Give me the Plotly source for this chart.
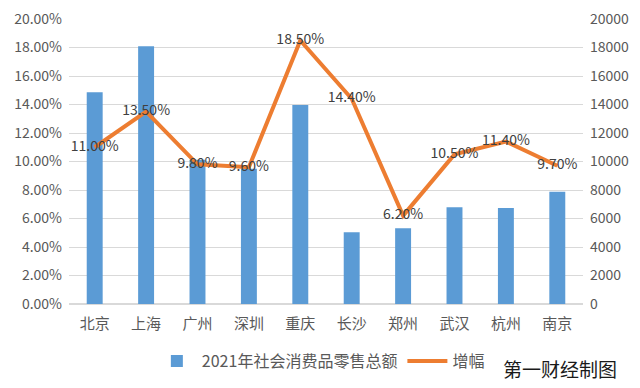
import plotly.graph_objects as go

cities = ["北京", "上海", "广州", "深圳", "重庆", "长沙", "郑州", "武汉", "杭州", "南京"]
retail = [14868, 18079, 10122, 9498, 13968, 5030, 5310, 6786, 6744, 7880]
growth = [11.0, 13.5, 9.8, 9.6, 18.5, 14.4, 6.2, 10.5, 11.4, 9.7]
bar_name = "2021年社会消费品零售总额"
line_name = "增幅"

FONT = "Noto Sans CJK SC"

fig = go.Figure()
fig.add_trace(go.Bar(
    x=cities, y=retail, name=bar_name, yaxis="y",
    marker=dict(color="#5B9BD5", line=dict(width=0)),
))
fig.add_trace(go.Scatter(
    x=cities, y=growth, name=line_name, yaxis="y2",
    mode="lines+text",
    line=dict(color="#ED7D31", width=4),
    text=[f"{v:.2f}%" for v in growth],
    textposition="middle center",
    textfont=dict(size=14, color="#404040", family=FONT),
    cliponaxis=False,
))

fig.update_layout(
    width=640, height=388,
    margin=dict(l=69, r=57, t=19, b=84, autoexpand=False),
    paper_bgcolor="white", plot_bgcolor="white",
    font=dict(family=FONT, color="#595959", size=13),
    bargap=0.69,
    showlegend=True,
    legend=dict(orientation="h", x=0.49, xanchor="center", y=-0.2, yanchor="middle",
                font=dict(size=16, color="#595959"), itemwidth=40,
                traceorder="normal"),
    xaxis=dict(showgrid=False, showline=False, ticks="",
               tickfont=dict(size=15, color="#595959"), ticklabelstandoff=9),
    yaxis=dict(side="right", range=[0, 20000], dtick=2000, tickformat="d",
               showgrid=True, gridcolor="#D9D9D9", gridwidth=1,
               zeroline=True, zerolinecolor="#D9D9D9", showline=False,
               tickfont=dict(size=14, color="#595959"), ticklabelstandoff=6),
    yaxis2=dict(side="left", overlaying="y", range=[0, 20], dtick=2,
                tickformat=".2f", ticksuffix="%", showgrid=False, zeroline=False,
                showline=False, tickfont=dict(size=14, color="#595959"),
                ticklabelstandoff=6),
    annotations=[dict(text="第一财经制图", xref="paper", yref="paper",
                      x=1.07, y=-0.228, xanchor="right", yanchor="middle",
                      showarrow=False, font=dict(size=19, color="#1a1a1a", family=FONT))],
)

fig.write_html("out.html", config={"displayModeBar": False},
               post_script="document.body.style.margin='0';document.body.style.overflow='hidden';")
